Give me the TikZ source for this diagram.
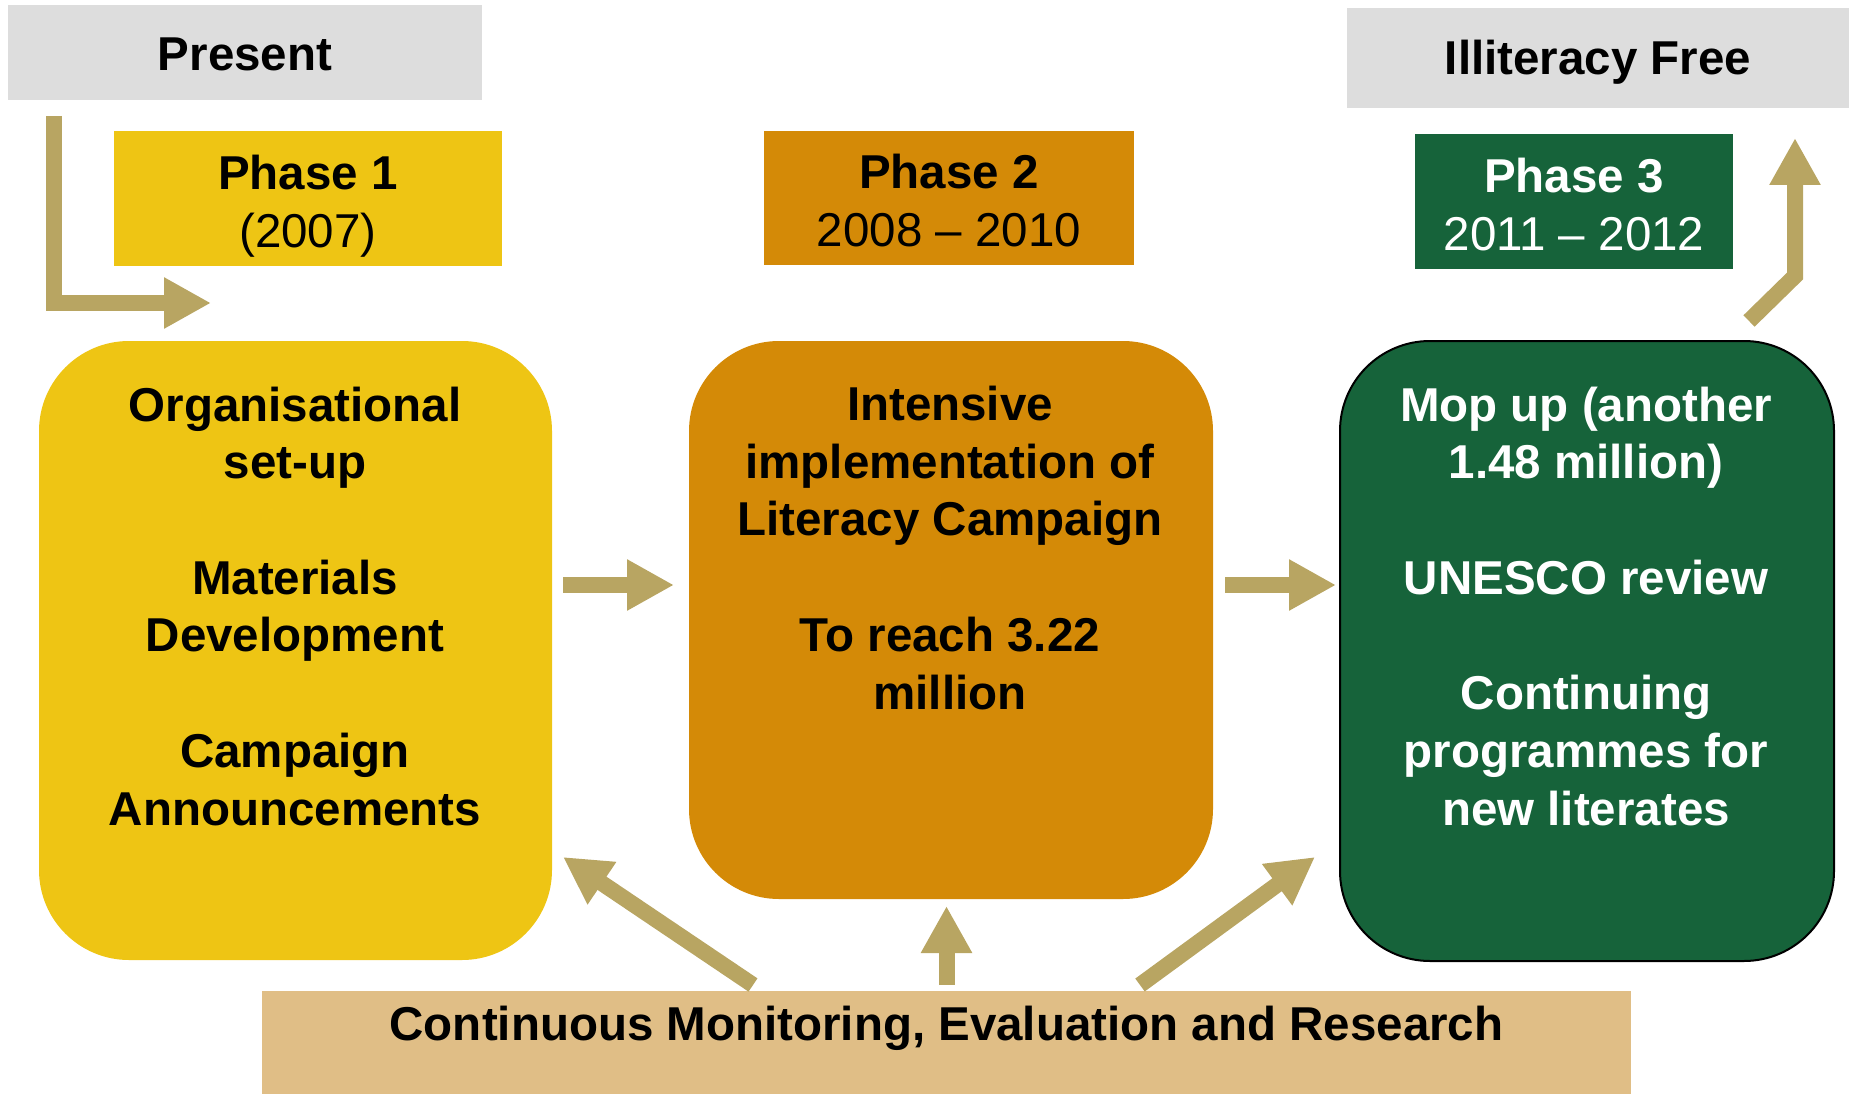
\documentclass[tikz,border=0pt]{standalone}
\usepackage{fontspec}
\setmainfont{Liberation Sans}
\usetikzlibrary{arrows.meta}
\definecolor{hdrgray}{HTML}{DDDDDD}
\definecolor{phyellow}{HTML}{EEC514}
\definecolor{phorange}{HTML}{D48A07}
\definecolor{phgreen}{HTML}{16633A}
\definecolor{arrowtan}{HTML}{B8A562}
\definecolor{montan}{HTML}{E0BE86}
\begin{document}
\begin{tikzpicture}[x=1pt,y=-1pt,
  every node/.style={inner sep=0pt, outer sep=0pt, font=\fontsize{47.5}{57.7}\selectfont},
  hbox/.style={align=center},
  bigbox/.style={rounded corners=90pt},
  txt/.style={align=center, anchor=base},
  blockarrow/.style={draw=arrowtan, line width=16pt, line join=miter,
    -{Triangle[length=47pt,width=48pt]}}
]
\useasboundingbox (0,0) rectangle (1849,1094);

% header boxes
\node[hbox, fill=hdrgray, minimum width=474pt, minimum height=95pt,
  text height=37pt, text depth=0pt] (pres) at (245,52.5) {\textbf{Present}};
\node[hbox, fill=hdrgray, minimum width=502pt, minimum height=100pt,
  text height=34pt, text depth=0pt] (free) at (1598,58) {\textbf{Illiteracy Free}};

\node[hbox, fill=phyellow, minimum width=388pt, minimum height=135pt,
  text height=97pt, text depth=0pt] (h1) at (308,198.5) {\textbf{Phase 1}\\(2007)};
\node[hbox, fill=phorange, minimum width=370pt, minimum height=134pt,
  text height=97pt, text depth=0pt] (h2) at (949,198) {\textbf{Phase 2}\\2008 – 2010};
\node[hbox, fill=phgreen, text=white, minimum width=318pt, minimum height=135pt,
  text height=97pt, text depth=0pt] (h3) at (1574,201.5) {\textbf{Phase 3}\\2011 – 2012};

% big boxes
\node[bigbox, fill=phyellow, minimum width=513pt, minimum height=619pt] (b1) at (295.5,650.5) {};
\node[bigbox, fill=phorange, minimum width=524pt, minimum height=558pt] (b2) at (951,620) {};
\node[bigbox, fill=phgreen, draw=black, line width=2pt, minimum width=494pt, minimum height=620pt] (b3) at (1587,651) {};

% text blocks (base anchor = baseline of last line)
\node[txt] (t1) at (295,825) {\textbf{Organisational}\\\textbf{set-up}\\[57.7pt]\textbf{Materials}\\\textbf{Development}\\[57.7pt]\textbf{Campaign}\\\textbf{Announcements}};
\node[txt] (t2) at (950,709) {\textbf{Intensive}\\\textbf{implementation of}\\\textbf{Literacy Campaign}\\[57.7pt]\textbf{To reach 3.22}\\\textbf{million}};
\node[txt, text=white] (t3) at (1586,825) {\textbf{Mop up (another}\\\textbf{1.48 million)}\\[57.7pt]\textbf{UNESCO review}\\[57.7pt]\textbf{Continuing}\\\textbf{programmes for}\\\textbf{new literates}};

% monitoring box
\node[hbox, fill=montan, minimum width=1369pt, minimum height=103pt,
  text height=34pt, text depth=39pt] (mon) at (946.5,1042.5) {\textbf{Continuous Monitoring, Evaluation and Research}};

% arrows
\coordinate (ya) at (0,585);
\coordinate (elbowtip) at (211,303);
\coordinate (elbowtop) at (54,116);
\draw[blockarrow] (elbowtop) |- (elbowtip);

\draw[blockarrow, shorten <=11pt, shorten >=15pt] (b1.east |- ya) -- (b2.west |- ya);
\draw[blockarrow, shorten <=12pt, shorten >=4pt] (b2.east |- ya) -- (b3.west |- ya);

\coordinate (ls) at (753,985);
\coordinate (lt) at (563,857);
\coordinate (rs) at (1140,985);
\coordinate (rt) at (1315,857);
\draw[blockarrow] (ls) -- (lt);
\draw[blockarrow, shorten <=6pt, shorten >=7pt] (mon.north) -- (mon.north |- b2.south);
\draw[blockarrow] (rs) -- (rt);

\coordinate (us) at (1749,321);
\coordinate (uc) at (1795,276);
\coordinate (ut) at (1795,138);
\draw[blockarrow] (us) -- (uc) -- (ut);
\end{tikzpicture}
\end{document}
